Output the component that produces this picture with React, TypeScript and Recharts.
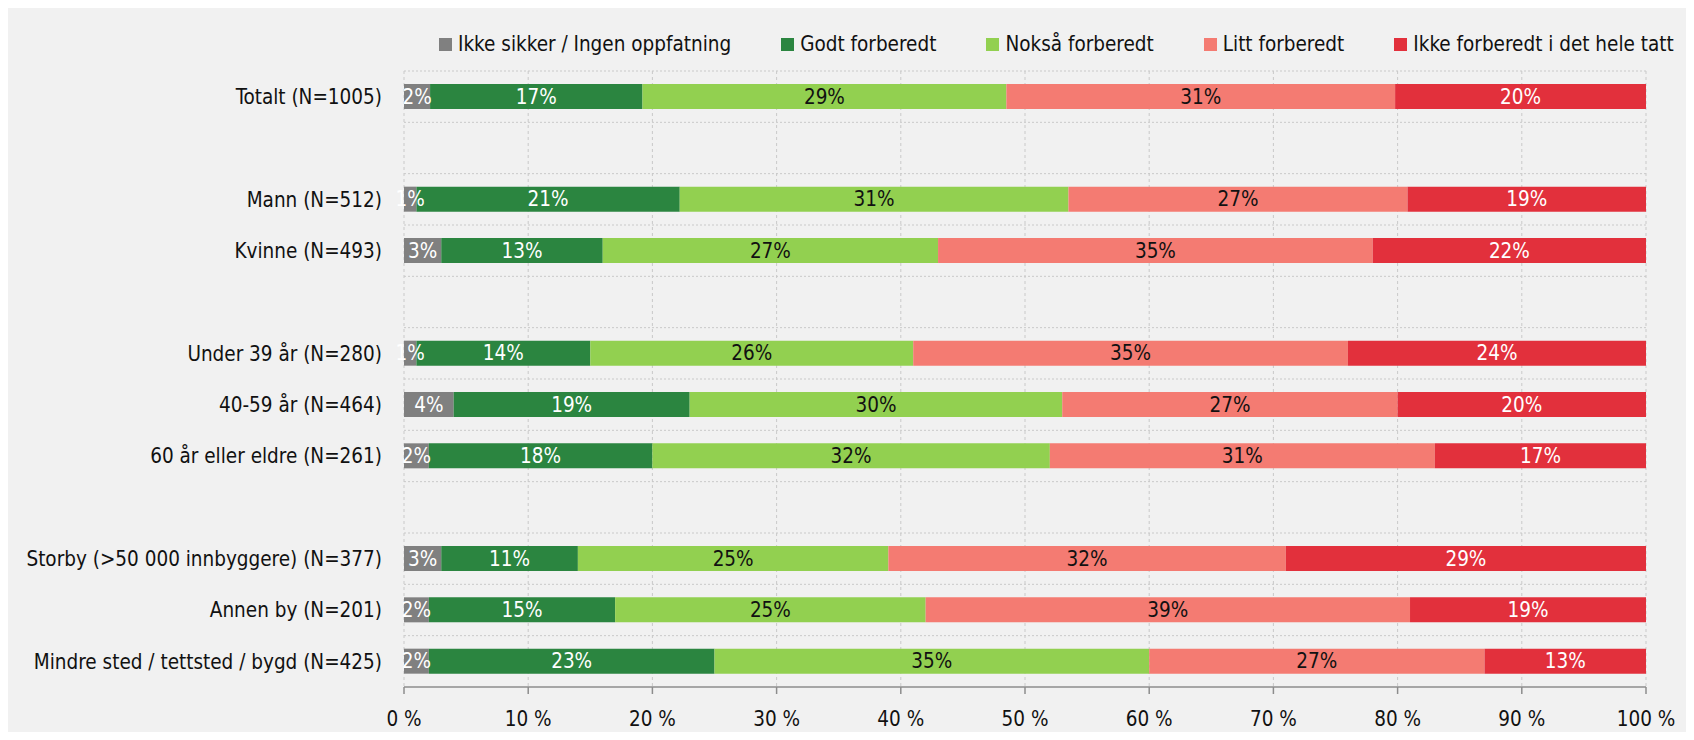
import React from "react";
import {
  BarChart,
  Bar,
  XAxis,
  YAxis,
  CartesianGrid,
  Legend,
  LabelList,
} from "recharts";

const groups = [
  "Totalt (N=1005)",
  "",
  "Mann (N=512)",
  "Kvinne (N=493)",
  " ",
  "Under 39 år (N=280)",
  "40-59 år (N=464)",
  "60 år eller eldre (N=261)",
  "  ",
  "Storby (>50 000 innbyggere) (N=377)",
  "Annen by (N=201)",
  "Mindre sted / tettsted / bygd (N=425)",
];

const ikkeSikker = [2.1, null, 1, 3, null, 1, 4, 2, null, 3, 2, 2];
const godt = [17.1, null, 21.2, 13, null, 14, 19, 18, null, 11, 15, 23];
const nokså = [29.3, null, 31.3, 27, null, 26, 30, 32, null, 25, 25, 35];
const litt = [31.3, null, 27.3, 35, null, 35, 27, 31, null, 32, 39, 27];
const ikkeForberedt = [20.2, null, 19.2, 22, null, 24, 20, 17, null, 29, 19, 13];

const xTicks = [0, 10, 20, 30, 40, 50, 60, 70, 80, 90, 100];

const series = [
  { key: "a", name: "Ikke sikker / Ingen oppfatning", values: ikkeSikker, color: "#808080", text: "#ffffff" },
  { key: "b", name: "Godt forberedt", values: godt, color: "#2b8540", text: "#ffffff" },
  { key: "c", name: "Nokså forberedt", values: nokså, color: "#92d050", text: "#111111" },
  { key: "d", name: "Litt forberedt", values: litt, color: "#f47b72", text: "#111111" },
  { key: "e", name: "Ikke forberedt i det hele tatt", values: ikkeForberedt, color: "#e2303c", text: "#ffffff" },
];

const data = groups.map((label, i) => {
  const row: any = { label };
  series.forEach((s) => {
    row[s.key] = s.values[i];
  });
  return row;
});

const FONT = "'Liberation Sans Narrow', 'DejaVu Sans Condensed', 'Open Sans', sans-serif";
const FS = 20.5;
const W = 1694;
const H = 740;
const TOP = 71;
const AXIS_H = 53;
const PLOT_H = H - TOP - AXIS_H;
const rowLines = groups.map((_, i) => TOP + (i * PLOT_H) / groups.length);

// legend built from the series list so it keeps the original order
const renderLegend = () => (
  <div style={{ display: "flex", alignItems: "center", fontFamily: FONT, fontSize: FS, color: "#111" }}>
    {series.map((s, i) => (
      <div key={s.key} style={{ display: "flex", alignItems: "center", marginRight: i < series.length - 1 ? 50 : 0 }}>
        <span style={{ width: 13, height: 13, background: s.color, display: "inline-block", marginRight: 6 }} />
        <span>{s.name}</span>
      </div>
    ))}
  </div>
);

export default function App() {
  return (
    <div style={{ margin: -8, width: W, height: H, position: "relative", background: "#ffffff" }}>
      <div style={{ position: "absolute", left: 5, top: 8, right: 0, bottom: 2, background: "#f1f1f1" }} />
      <div style={{ position: "absolute", left: 0, top: 0 }}>
        <BarChart
          width={W}
          height={H}
          data={data}
          layout="vertical"
          margin={{ top: TOP, right: 48, bottom: 0, left: 0 }}
          style={{ fontFamily: FONT }}
        >
          <CartesianGrid vertical={true} horizontal={false} stroke="#c9c9c9" strokeDasharray="3 3" />
          <CartesianGrid vertical={false} horizontal={true} horizontalPoints={rowLines} stroke="#c9c9c9" strokeDasharray="2 2" />
          <XAxis
            type="number"
            domain={[0, 100]}
            ticks={xTicks}
            tickFormatter={(v: number) => `${v} %`}
            height={AXIS_H}
            axisLine={{ stroke: "#8c8c8c", strokeWidth: 1.5 }}
            tickLine={{ stroke: "#8c8c8c", strokeWidth: 1.5 }}
            tickSize={7}
            tickMargin={17}
            tick={{ fill: "#111111", fontSize: FS }}
            interval={0}
          />
          <YAxis
            type="category"
            dataKey="label"
            width={404}
            axisLine={false}
            tickLine={false}
            tickSize={0}
            tickMargin={22}
            tick={{ fill: "#111111", fontSize: FS }}
            interval={0}
          />
          <Legend
            verticalAlign="middle"
            align="center"
            content={renderLegend}
            wrapperStyle={{ top: 32, left: 439, width: "auto" }}
          />
          {series.map((s) => (
            <Bar
              key={s.key}
              dataKey={s.key}
              name={s.name}
              stackId="s"
              fill={s.color}
              barSize={25}
              isAnimationActive={false}
            >
              <LabelList
                dataKey={s.key}
                position="center"
                fill={s.text}
                fontSize={FS}
                formatter={(v: any) => (v == null ? "" : `${Math.round(v)}%`)}
              />
            </Bar>
          ))}
        </BarChart>
      </div>
    </div>
  );
}
